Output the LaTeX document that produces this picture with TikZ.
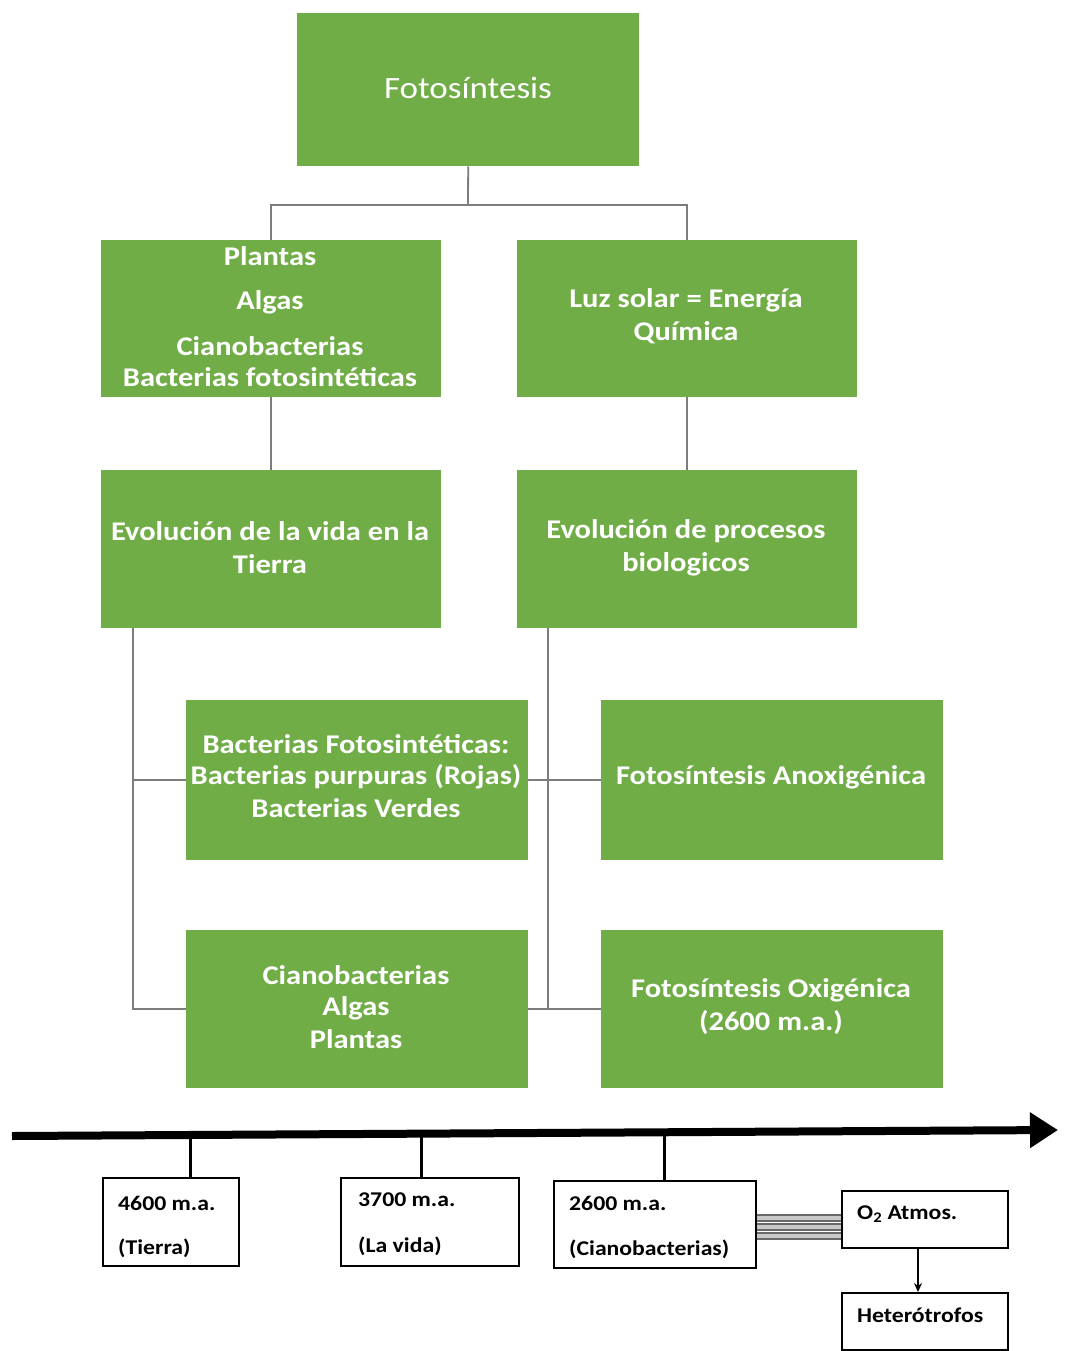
\documentclass[tikz,border=0pt]{standalone}
\usepackage{fontspec}
\setmainfont{Carlito}
\newfontfamily\widefont[FakeStretch=1.13]{Carlito}
\usetikzlibrary{arrows.meta}
\definecolor{boxgreen}{RGB}{112,173,71}
\definecolor{conngray}{RGB}{125,125,125}
\definecolor{bandlight}{RGB}{200,200,200}
\definecolor{banddark}{RGB}{105,105,105}
\begin{document}
\begin{tikzpicture}[x=1pt,y=-1pt,
  greenbox/.style={fill=boxgreen, draw=none, inner sep=0pt, anchor=north west},
  gtext/.style={text=white, font=\widefont\bfseries\fontsize{27}{33}\selectfont, align=center, inner sep=0pt},
  conn/.style={draw=conngray, line width=1.8pt},
  tbox/.style={draw=black, line width=1.6pt, inner sep=0pt, anchor=north west},
  ttext/.style={font=\widefont\bfseries\fontsize{21}{24}\selectfont, anchor=west, inner sep=0pt},
  tick/.style={draw=black, line width=3pt},
  triple/.style={draw=banddark, line width=2.2pt, double=bandlight, double distance=4pt}]
\useasboundingbox (0,0) rectangle (1073,1351);
\fill[white] (0,0) rectangle (1073,1351);

% green boxes
\node[greenbox, minimum width=342pt, minimum height=153pt] (foto) at (297,13) {};
\node[greenbox, minimum width=340pt, minimum height=157pt] (boxA) at (101,240) {};
\node[greenbox, minimum width=340pt, minimum height=157pt] (boxB) at (517,240) {};
\node[greenbox, minimum width=340pt, minimum height=158pt] (boxC) at (101,470) {};
\node[greenbox, minimum width=340pt, minimum height=158pt] (boxD) at (517,470) {};
\node[greenbox, minimum width=342pt, minimum height=160pt] (boxE) at (186,700) {};
\node[greenbox, minimum width=342pt, minimum height=160pt] (boxG) at (601,700) {};
\node[greenbox, minimum width=342pt, minimum height=158pt] (boxF) at (186,930) {};
\node[greenbox, minimum width=342pt, minimum height=158pt] (boxH) at (601,930) {};

% texts in green boxes
\node[gtext, font=\widefont\fontsize{31}{33}\selectfont] (tfoto) at (468,88) {Fotosíntesis};
\node[gtext] (ta1) at (270,256) {Plantas};
\node[gtext] (ta2) at (270,302) {Algas};
\node[gtext] (ta3) at (270,346) {Cianobacterias};
\node[gtext] (ta4) at (270,377) {Bacterias fotosintéticas};
\node[gtext] (tb1) at (686,300) {Luz solar = Energía};
\node[gtext] (tb2) at (686,333) {Química};
\node[gtext] (tc1) at (270,531) {Evolución de la vida en la};
\node[gtext] (tc2) at (270,564) {Tierra};
\node[gtext] (td1) at (686,531) {Evolución de procesos};
\node[gtext] (td2) at (686,564) {biologicos};
\node[gtext] (te1) at (356,744) {Bacterias Fotosintéticas:};
\node[gtext] (te2) at (356,777) {Bacterias purpuras (Rojas)};
\node[gtext] (te3) at (356,808) {Bacterias Verdes};
\node[gtext] (tg1) at (771,777) {Fotosíntesis Anoxigénica};
\node[gtext] (tf1) at (356,975) {Cianobacterias};
\node[gtext] (tf2) at (356,1008) {Algas};
\node[gtext] (tf3) at (356,1039) {Plantas};
\node[gtext] (th1) at (771,990) {Fotosíntesis Oxigénica};
\node[gtext] (th2) at (771,1023) {(2600 m.a.)};

% connectors
\coordinate (jt) at (468,205);
\draw[conn] (foto.south) -- (jt);
\draw[conn] (boxA.north) |- (jt) -| (boxB.north);
\draw[conn] (boxA.south) -- (boxC.north);
\draw[conn] (boxB.south) -- (boxD.north);
\coordinate (cl) at (133,628);
\draw[conn] (cl) |- (boxE.west);
\draw[conn] (cl) |- (boxF.west);
\coordinate (dr) at (548,628);
\draw[conn] (dr) |- (boxH.west);
\draw[conn] (boxE.east) -- (boxG.west);
\draw[conn] (boxF.east) -- (boxH.west);

% timeline
\coordinate (tl0) at (12,1136);
\coordinate (tl1) at (1058,1130);
\draw[line width=8pt, -{Triangle[length=28pt, width=34pt]}] (tl0) -- (tl1);

\node[tbox, minimum width=136pt, minimum height=88pt] (t1) at (102,1177) {};
\node[tbox, minimum width=178pt, minimum height=88pt] (t2) at (340,1177) {};
\node[tbox, minimum width=202pt, minimum height=87pt] (t3) at (553,1180) {};
\node[tbox, minimum width=166pt, minimum height=57pt] (o2) at (841,1190) {};
\node[tbox, minimum width=166pt, minimum height=57pt] (het) at (841,1292) {};

\coordinate (k1) at (190,1135);
\coordinate (k2) at (421,1134);
\coordinate (k3) at (664,1133);
\draw[tick] (k1) -- (k1 |- t1.north);
\draw[tick] (k2) -- (k2 |- t2.north);
\draw[tick] (k3) -- (k3 |- t3.north);

\node[ttext] (x1a) at (118,1203) {4600 m.a.};
\node[ttext] (x1b) at (118,1248) {(Tierra)};
\node[ttext] (x2a) at (358,1200) {3700 m.a.};
\node[ttext] (x2b) at (358,1246) {(La vida)};
\node[ttext] (x3a) at (569,1203) {2600 m.a.};
\node[ttext] (x3b) at (569,1249) {(Cianobacterias)};
\node[ttext] (xo) at (857,1214) {O\textsubscript{2} Atmos.};
\node[ttext] (xh) at (857,1315) {Heterótrofos};

\foreach \yy in {1218,1227,1236}
  \draw[triple] (t3.east |- 0,\yy) -- (o2.west |- 0,\yy);

\coordinate (oa) at (918,1247);
\draw[line width=1.5pt, -{Stealth[length=9pt, width=8pt]}] (oa) -- (oa |- het.north);
\end{tikzpicture}
\end{document}
